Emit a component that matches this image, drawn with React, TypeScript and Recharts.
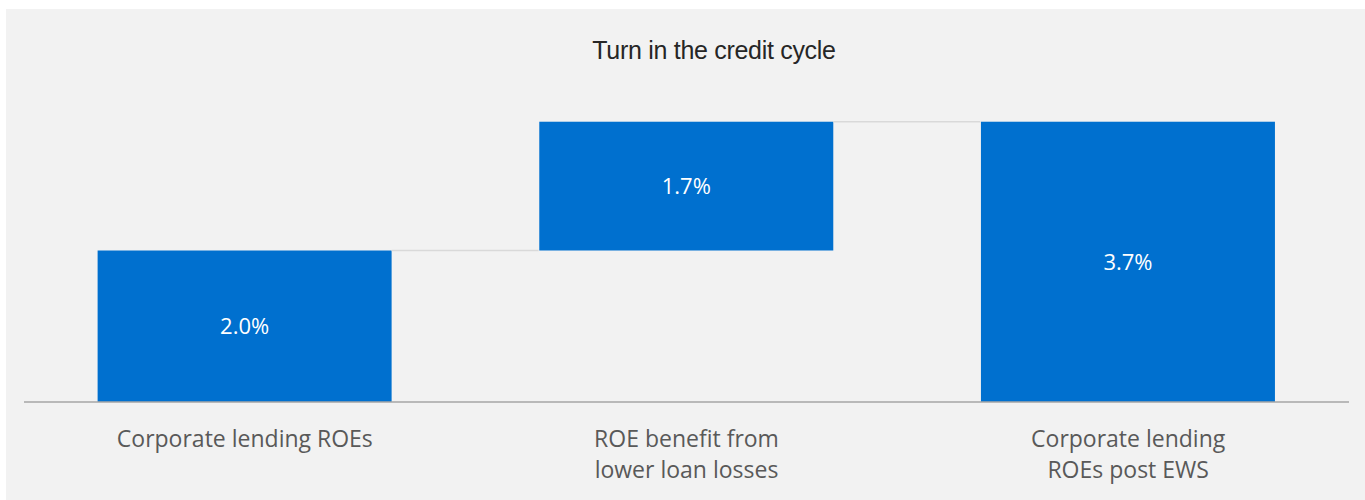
import React from 'react';
import { BarChart, Bar, XAxis, YAxis, LabelList } from 'recharts';

const categories = ['Corporate lending ROEs', 'ROE benefit from\nlower loan losses', 'Corporate lending\nROEs post EWS'];
const baseValues = [0, 2.0, 0];
const stepValues = [2.0, 1.7, 3.7];

const data = categories.map((name, i) => ({ name, base: baseValues[i], step: stepValues[i] }));

const BLUE = '#0070CF';
const FONT = '"Open Sans", "Noto Sans", sans-serif';

// bar with a connector line running to the next bar
const StepBar = (props: any) => {
  const { x, y, width, height, index } = props;
  const last = index === data.length - 1;
  return (
    <g>
      <rect x={x} y={y} width={width} height={height} fill={BLUE} />
      {!last && (
        <line x1={x + width} x2={x + width * 1.5} y1={y} y2={y} stroke="#d9d9d9" strokeWidth={1.5} />
      )}
    </g>
  );
};

const Tick = (props: any) => {
  const { x, y, payload } = props;
  const lines = String(payload.value).split('\n');
  return (
    <text x={x} y={y} textAnchor="middle" fill="#595959" fontSize={23} fontFamily={FONT}>
      {lines.map((l, i) => (
        <tspan key={i} x={x} dy={i === 0 ? 37 : 31}>{l}</tspan>
      ))}
    </text>
  );
};

const App: React.FC = () => {
  return (
    <div style={{ position: 'absolute', left: 0, top: 0, width: 1365, height: 500 }}>
      <div style={{ position: 'absolute', left: 6, top: 9, width: 1359, height: 491, background: '#f2f2f2' }} />
      <div
        style={{
          position: 'absolute', left: 514, top: 33, width: 400, textAlign: 'center',
          fontFamily: '"Liberation Sans", Arial, sans-serif', fontSize: 25, color: '#262626',
          lineHeight: '34px', letterSpacing: -0.3,
        }}
      >
        Turn in the credit cycle
      </div>
      <div style={{ position: 'absolute', left: 0, top: 0 }}>
        <BarChart
          width={1365}
          height={500}
          data={data}
          margin={{ top: 99, right: 16, bottom: 8, left: 24 }}
          barCategoryGap="16.667%"
        >
          <XAxis
            dataKey="name"
            axisLine={{ stroke: '#a6a6a6', strokeWidth: 1.5 }}
            tickLine={false}
            height={90}
            interval={0}
            tick={<Tick />}
          />
          <YAxis hide domain={[0, 4]} />
          <Bar dataKey="base" stackId="w" fill="transparent" isAnimationActive={false} />
          <Bar dataKey="step" stackId="w" shape={<StepBar />} isAnimationActive={false}>
            <LabelList
              dataKey="step"
              position="center"
              fill="#ffffff"
              fontSize={22}
              fontFamily={FONT}
              formatter={(v: any) => `${Number(v).toFixed(1)}%`}
            />
          </Bar>
        </BarChart>
      </div>
    </div>
  );
};

export default App;
